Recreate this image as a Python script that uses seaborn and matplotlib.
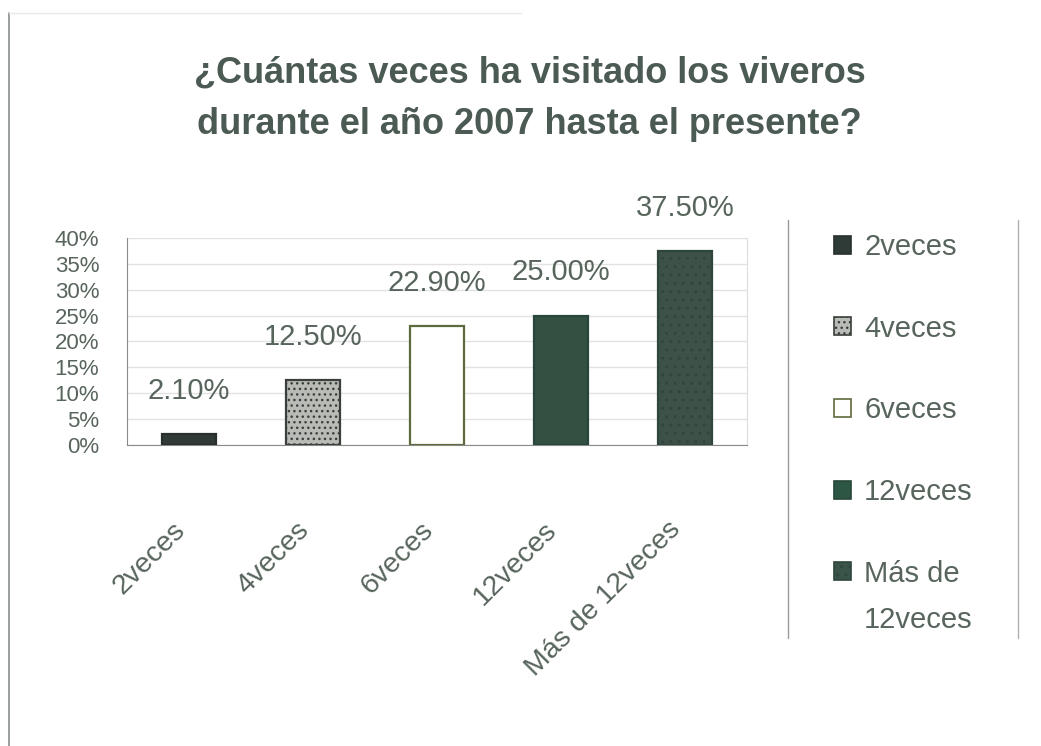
import matplotlib
matplotlib.use('Agg')
import matplotlib.pyplot as plt
import matplotlib.transforms as mtrans
import seaborn as sns
import pandas as pd
from matplotlib.lines import Line2D
from matplotlib.patches import Patch

# datos
categorias = ['2veces', '4veces', '6veces', '12veces', 'Más de 12veces']
porcentajes = [0.021, 0.125, 0.229, 0.250, 0.375]
etiquetas = ['2.10%', '12.50%', '22.90%', '25.00%', '37.50%']
leyenda = ['2veces', '4veces', '6veces', '12veces', 'Más de\n12veces']
ticks_y = [0, 0.05, 0.10, 0.15, 0.20, 0.25, 0.30, 0.35, 0.40]
ticks_y_txt = ['0%', '5%', '10%', '15%', '20%', '25%', '30%', '35%', '40%']

colores = ['#2f3b36', '#b9bcb6', '#ffffff', '#2d5644', '#3b5449']
bordes = ['#27302c', '#3a3f3c', '#5d6a3c', '#28463a', '#2f463c']
txt = '#58655c'

df = pd.DataFrame({'cat': categorias, 'pct': porcentajes})

sns.set_style('white')
plt.rcParams['font.family'] = ['Liberation Sans', 'DejaVu Sans']
plt.rcParams['hatch.color'] = '#d8dbd6'

fig = plt.figure(figsize=(10.41, 7.46), dpi=100)
ax = fig.add_axes([0.122, 0.4035, 0.5956, 0.2775])

sns.barplot(data=df, x='cat', y='pct', hue='cat', palette=colores, width=0.44,
            legend=False, ax=ax, zorder=3)
for p, ec in zip(ax.patches, bordes):
    p.set_edgecolor(ec)
    p.set_linewidth(1.6)
ax.patches[1].set_hatch('...')
ax.patches[4].set_hatch('..')

for cont, lab in zip(ax.containers, etiquetas):
    ax.bar_label(cont, labels=[lab], padding=21, fontsize=21, color=txt)

ax.set_ylim(0, 0.40)
ax.set_xlim(-0.5, 4.5)
ax.set_yticks(ticks_y)
ax.set_yticklabels(ticks_y_txt, fontsize=16, color=txt)
ax.tick_params(axis='y', length=0, pad=20)
ax.yaxis.grid(True, color='#e2e2e2', lw=1)
ax.set_axisbelow(True)

# etiquetas del eje x giradas, ancladas bajo cada categoria
ax.set_xticks(range(len(categorias)))
ax.set_xticklabels([])
ax.tick_params(axis='x', length=0)
desplaz = mtrans.ScaledTranslation(-0.08, -0.81, fig.dpi_scale_trans)
for i, c in enumerate(categorias):
    ax.text(i, 0, c, transform=ax.get_xaxis_transform() + desplaz, rotation=45,
            rotation_mode='anchor', ha='right', va='center', fontsize=20.5, color=txt)
ax.set_xticks([i - 0.5 for i in range(len(categorias) + 1)], minor=True)
ax.tick_params(axis='x', which='minor', length=7, color='#9a9a9a', direction='out')
ax.set_xlabel('')
ax.set_ylabel('')

ax.spines['top'].set_visible(False)
ax.spines['left'].set_color('#8a8a8a')
ax.spines['bottom'].set_color('#8a8a8a')
ax.spines['right'].set_color('#dddddd')

fig.text(0.509, 0.868, '¿Cuántas veces ha visitado los viveros\ndurante el año 2007 hasta el presente?',
         ha='center', va='center', fontsize=26, fontweight='bold', color='#4b5a52',
         linespacing=1.6)

# leyenda: la ultima entrada lleva su segunda linea aparte
primeras = [l.split('\n')[0] for l in leyenda]
handles = [Patch(facecolor=c, edgecolor=e, lw=1.2) for c, e in zip(colores, bordes)]
handles[1].set_hatch('...')
handles[4].set_hatch('..')
leg = fig.legend(handles, primeras, loc='upper left', bbox_to_anchor=(0.776, 0.723),
                 frameon=False, fontsize=21, labelcolor=txt, handlelength=0.58,
                 handleheight=0.58, handletextpad=0.45, labelspacing=1.84)
fig.canvas.draw()
ult = leg.get_texts()[-1].get_window_extent()
x0, y0 = fig.transFigure.inverted().transform((ult.x0, ult.y0))
fig.text(x0, y0 - 0.062, leyenda[-1].split('\n')[1], ha='left', va='bottom',
         fontsize=21, color=txt)

# marco exterior y lineas de la leyenda
fig.add_artist(Line2D([0.009, 0.009], [0.0, 0.982], color='#8a8f8a', lw=1.2))
fig.add_artist(Line2D([0.009, 0.5], [0.982, 0.982], color='#e8e8e8', lw=1))
fig.add_artist(Line2D([0.757, 0.757], [0.145, 0.705], color='#9a9a9a', lw=1))
fig.add_artist(Line2D([0.978, 0.978], [0.145, 0.705], color='#b0b0b0', lw=1))

fig.savefig('out.png', dpi=100)
